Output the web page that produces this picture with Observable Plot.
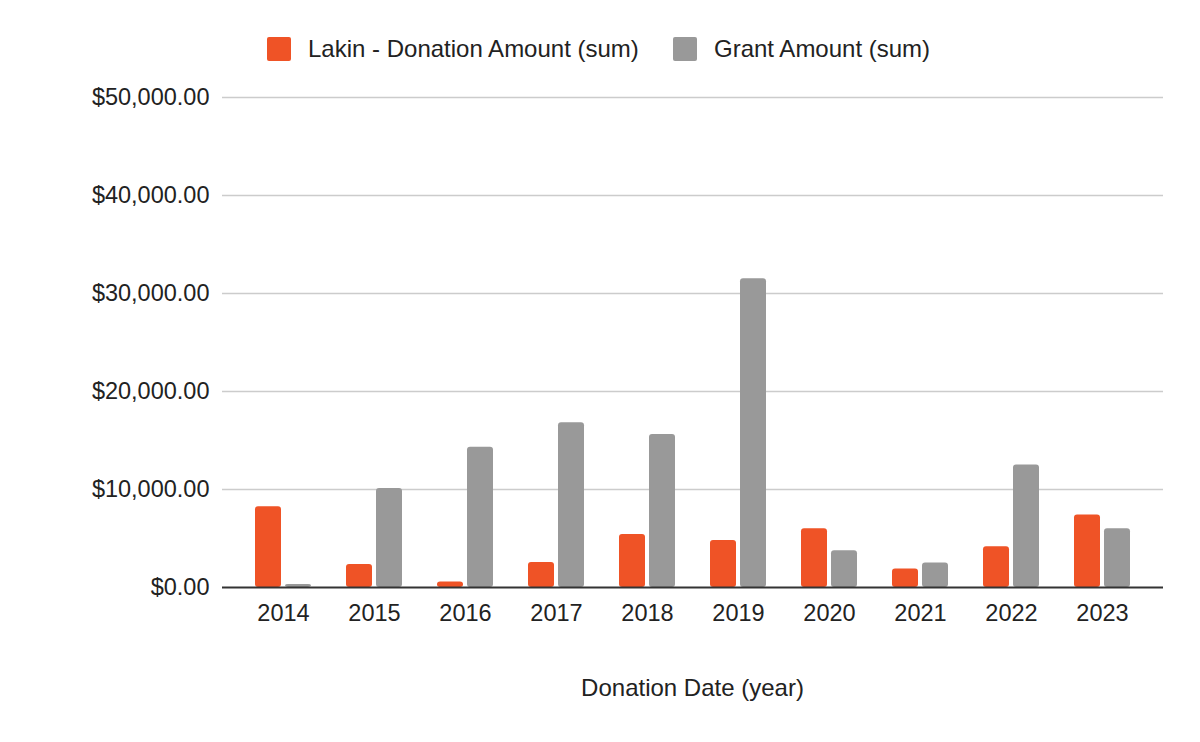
<!DOCTYPE html>
<html>
<head>
<meta charset="utf-8">
<script src="https://cdn.jsdelivr.net/npm/d3@7"></script>
<script src="https://cdn.jsdelivr.net/npm/@observablehq/plot@0.6"></script>
<style>
  html, body { margin: 0; padding: 0; background: #fff; }
  body { width: 1200px; height: 742px; overflow: hidden; font-family: "Liberation Sans", Arial, sans-serif; color: #222; }
  #legend { height: 70px; position: relative; }
  .item { position: absolute; top: 36px; display: flex; align-items: center; height: 25px; font-size: 24px; color: #222; }
  .sw { width: 24px; height: 24px; border-radius: 2px; margin-right: 17px; }
  #xtitle { margin-left: 222px; width: 941px; text-align: center; font-size: 24px; line-height: 36px; color: #222; }
</style>
</head>
<body>
<div id="legend"></div>
<div id="chart"></div>
<div id="xtitle"></div>
<script>
const years = ["2014","2015","2016","2017","2018","2019","2020","2021","2022","2023"];
const donationAmount = [8250, 2350, 550, 2550, 5400, 4800, 6000, 1900, 4150, 7400];
const grantAmount = [300, 10100, 14300, 16800, 15600, 31500, 3750, 2500, 12500, 6000];
const seriesNames = ["Lakin - Donation Amount (sum)", "Grant Amount (sum)"];
const seriesColors = ["#ef5326", "#999999"];
const yTicks = [0, 10000, 20000, 30000, 40000, 50000];
const xTitle = "Donation Date (year)";

const donationRows = years.map((year, i) => ({year, value: donationAmount[i]}));
const grantRows = years.map((year, i) => ({year, value: grantAmount[i]}));

const fmt = d3.format(",.2f");

const chart = Plot.plot({
  width: 1200,
  height: 600,
  marginLeft: 222,
  marginRight: 37,
  marginTop: 27,
  marginBottom: 83,
  style: {fontFamily: "'Liberation Sans', Arial, sans-serif", fontSize: "23.5px", color: "#222", background: "#fff"},
  x: {type: "band", domain: years, paddingInner: 0.385, paddingOuter: 0.36},
  y: {domain: [0, 50000]},
  marks: [
    Plot.ruleY(yTicks.filter(d => d > 0), {stroke: "#cccccc", strokeWidth: 1.5}),
    Plot.barY(donationRows, {x: "year", y: "value", fill: seriesColors[0], insetRight: 30, rx: 3}),
    Plot.barY(grantRows, {x: "year", y: "value", fill: seriesColors[1], insetLeft: 30, rx: 3}),
    Plot.ruleY([0], {stroke: "#333", strokeWidth: 2}),
    Plot.axisY({ticks: yTicks, tickSize: 0, tickPadding: 13, tickFormat: d => "$" + fmt(d), label: null}),
    Plot.axisX({tickSize: 0, tickPadding: 17, label: null})
  ]
});
document.getElementById("chart").appendChild(chart);

const legend = document.getElementById("legend");
const lefts = [267, 673];
seriesNames.forEach((name, i) => {
  const item = document.createElement("div");
  item.className = "item";
  item.style.left = lefts[i] + "px";
  const sw = document.createElement("div");
  sw.className = "sw";
  sw.style.background = seriesColors[i];
  const label = document.createElement("span");
  label.textContent = name;
  item.appendChild(sw);
  item.appendChild(label);
  legend.appendChild(item);
});
document.getElementById("xtitle").textContent = xTitle;
</script>
</body>
</html>
